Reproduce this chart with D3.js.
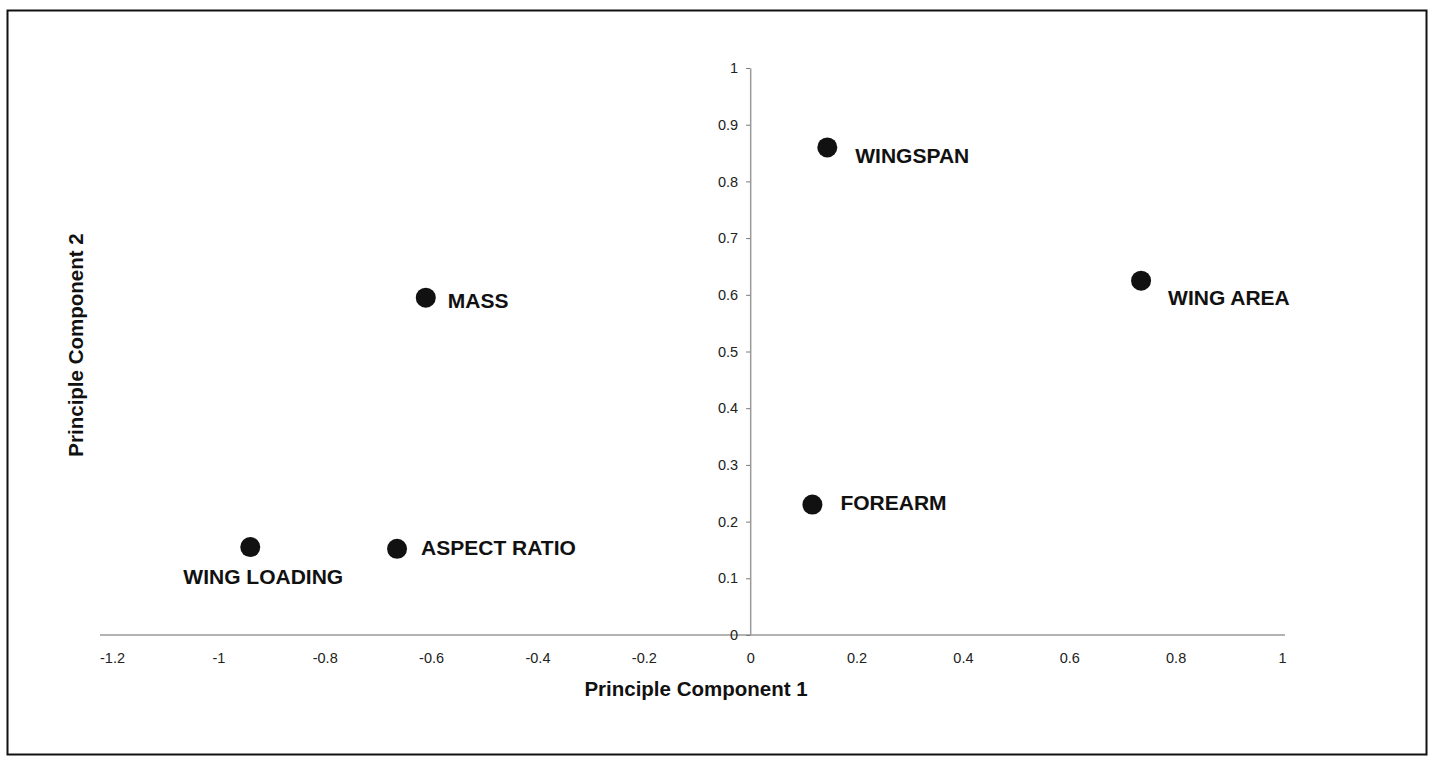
<!DOCTYPE html>
<html>
<head>
<meta charset="utf-8">
<script src="https://cdn.jsdelivr.net/npm/d3@7"></script>
<style>
  body { margin: 0; background: #fff; }
  svg { display: block; font-family: "Liberation Sans", Arial, sans-serif; }
</style>
</head>
<body>
<script>
// loadings
let names = ["WINGSPAN", "WING AREA", "MASS", "FOREARM", "ASPECT RATIO", "WING LOADING"]
let pc1 = [0.145, 0.735, -0.61, 0.117, -0.664, -0.94]
let pc2 = [0.86, 0.625, 0.595, 0.23, 0.152, 0.155]

let xTicks = [-1.2, -1, -0.8, -0.6, -0.4, -0.2, 0, 0.2, 0.4, 0.6, 0.8, 1]
let yTicks = [0, 0.1, 0.2, 0.3, 0.4, 0.5, 0.6, 0.7, 0.8, 0.9, 1]

let width = 1435
let height = 765

// where each label sits relative to its dot
let labelPos = {
  "WINGSPAN": [28, 8, "start"],
  "WING AREA": [27, 17, "start"],
  "MASS": [22, 3, "start"],
  "FOREARM": [28, -2, "start"],
  "ASPECT RATIO": [24, -1, "start"],
  "WING LOADING": [13, 30, "middle"]
}

let points = names.map((n, i) => ({ name: n, x: pc1[i], y: pc2[i] }))

let svg = d3.select("body")
            .append("svg")
            .attr("width", width)
            .attr("height", height)

// frame
svg.append("rect")
   .attr("x", 7.5)
   .attr("y", 10.5)
   .attr("width", 1419)
   .attr("height", 744)
   .attr("fill", "none")
   .attr("stroke", "#111")
   .attr("stroke-width", 2)

let xScale = d3.scaleLinear()
               .domain([-1.2, 1])
               .range([112, 1282])

let yScale = d3.scaleLinear()
               .domain([0, 1])
               .range([635, 68])

let fmt = d => String(d)

// x axis
let xAxis = d3.axisBottom(xScale)
              .tickValues(xTicks)
              .tickFormat(fmt)
              .tickSize(0)
              .tickPadding(18)

let gx = svg.append("g")
            .attr("id", "x-axis")
            .attr("transform", "translate(0," + yScale(0) + ")")
            .call(xAxis)

gx.select(".domain").remove()
gx.append("line")
  .attr("x1", xScale(-1.2) - 12)
  .attr("x2", xScale(1) + 3)
  .attr("stroke", "#9a9a9a")
  .attr("stroke-width", 1.5)
gx.selectAll(".tick text")
  .attr("fill", "#222")
  .style("font-size", "14.5px")

// y axis crosses at x = 0
let yAxis = d3.axisLeft(yScale)
              .tickValues(yTicks)
              .tickFormat(fmt)
              .tickSize(4)
              .tickSizeOuter(0)
              .tickPadding(8)

let gy = svg.append("g")
            .attr("id", "y-axis")
            .attr("transform", "translate(" + xScale(0) + ",0)")
            .call(yAxis)

gy.select(".domain")
  .attr("stroke", "#9a9a9a")
  .attr("stroke-width", 1.5)
gy.selectAll(".tick line")
  .attr("stroke", "#777")
gy.selectAll(".tick text")
  .attr("fill", "#222")
  .style("font-size", "14.5px")

// dots
svg.selectAll("circle.pt")
   .data(points)
   .enter()
   .append("circle")
   .attr("class", "pt")
   .attr("cx", d => xScale(d.x))
   .attr("cy", d => yScale(d.y))
   .attr("r", 10)
   .attr("fill", "#111")

svg.selectAll("text.lbl")
   .data(points)
   .enter()
   .append("text")
   .attr("class", "lbl")
   .attr("x", d => xScale(d.x) + labelPos[d.name][0])
   .attr("y", d => yScale(d.y) + labelPos[d.name][1])
   .attr("dy", "0.35em")
   .attr("text-anchor", d => labelPos[d.name][2])
   .style("font-size", "21px")
   .style("font-weight", "bold")
   .attr("fill", "#111")
   .text(d => d.name)

// axis titles
svg.append("text")
   .attr("x", 696)
   .attr("y", 689)
   .attr("dy", "0.35em")
   .attr("text-anchor", "middle")
   .style("font-size", "20.5px")
   .style("font-weight", "bold")
   .attr("fill", "#111")
   .text("Principle Component 1")

svg.append("text")
   .attr("transform", "translate(76,345) rotate(-90)")
   .attr("dy", "0.35em")
   .attr("text-anchor", "middle")
   .style("font-size", "20.5px")
   .style("font-weight", "bold")
   .attr("fill", "#111")
   .text("Principle Component 2")
</script>
</body>
</html>
